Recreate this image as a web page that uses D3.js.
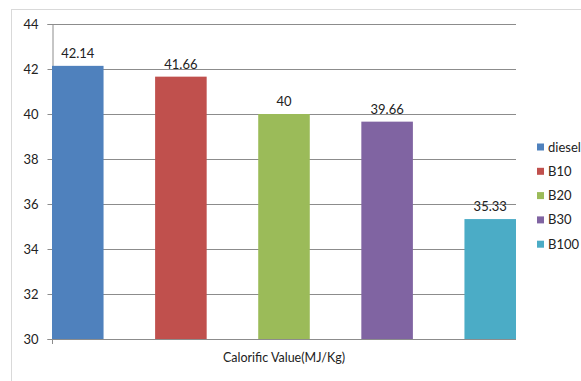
<!DOCTYPE html>
<html>
<head>
<meta charset="utf-8">
<script src="https://cdn.jsdelivr.net/npm/d3@7"></script>
<style>
  html, body { margin: 0; padding: 0; background: #fff; }
  svg { display: block; }
  text { font-family: Lato, "Open Sans", "Liberation Sans", sans-serif; fill: #222; }
</style>
</head>
<body>
<svg id="chart" width="581" height="381"></svg>
<script>
// Fuel blends and their calorific value (MJ/kg)
const fuels = ["diesel", "B10", "B20", "B30", "B100"];
const calorific = [42.14, 41.66, 40, 39.66, 35.33];
const fuelColors = ["#4F81BD", "#C0504D", "#9BBB59", "#8064A2", "#4BACC6"];
const yTicks = [30, 32, 34, 36, 38, 40, 42, 44];
const axisTitle = "Calorific Value(MJ/Kg)";

const svg = d3.select("#chart");
const plot = { left: 52, right: 516, top: 24, bottom: 339 };

// Chart frame
svg.append("rect")
  .attr("x", 11.5).attr("y", 9.5)
  .attr("width", 600).attr("height", 400)
  .attr("fill", "none").attr("stroke", "#d9d9d9");

const x = d3.scaleBand().domain(fuels)
  .range([plot.left, plot.right])
  .paddingInner(0.5).paddingOuter(0);

const y = d3.scaleLinear().domain([30, 44]).range([plot.bottom, plot.top]);

// Horizontal gridlines
svg.append("g").selectAll("line")
  .data(yTicks.filter(t => t !== 30))
  .join("line")
  .attr("x1", plot.left).attr("x2", plot.right)
  .attr("y1", d => Math.round(y(d)) + 0.5).attr("y2", d => Math.round(y(d)) + 0.5)
  .attr("stroke", "#8c8c8c").attr("stroke-width", 1);

// Y axis
const yAxis = svg.append("g")
  .attr("transform", `translate(${plot.left + 0.5},0)`)
  .call(d3.axisLeft(y).tickValues(yTicks).tickSize(5).tickPadding(9).tickFormat(d3.format("d")));
yAxis.select(".domain").attr("stroke", "#8c8c8c");
yAxis.selectAll(".tick line").attr("stroke", "#8c8c8c");
yAxis.selectAll(".tick text").attr("font-size", 13).style("font-family", "Lato, 'Open Sans', sans-serif").attr("fill", "#222");

// Bars
svg.append("g").selectAll("rect")
  .data(fuels)
  .join("rect")
  .attr("x", d => x(d))
  .attr("width", x.bandwidth())
  .attr("y", (d, i) => y(calorific[i]))
  .attr("height", (d, i) => y(30) - y(calorific[i]))
  .attr("fill", (d, i) => fuelColors[i]);

// X baseline with a tick at the left end
svg.append("line")
  .attr("x1", plot.left).attr("x2", plot.right)
  .attr("y1", plot.bottom + 0.5).attr("y2", plot.bottom + 0.5)
  .attr("stroke", "#8c8c8c");
svg.append("line")
  .attr("x1", plot.left + 0.5).attr("x2", plot.left + 0.5)
  .attr("y1", plot.bottom).attr("y2", plot.bottom + 5)
  .attr("stroke", "#8c8c8c");

// Value labels
svg.append("g").selectAll("text")
  .data(fuels)
  .join("text")
  .attr("x", d => x(d) + x.bandwidth() / 2)
  .attr("y", (d, i) => y(calorific[i]) - 8)
  .attr("text-anchor", "middle")
  .attr("font-size", 13)
  .text((d, i) => calorific[i]);

// Category axis title
svg.append("text")
  .attr("x", 284).attr("y", 362)
  .attr("text-anchor", "middle")
  .attr("font-size", 12.5)
  .text(axisTitle);

// Legend
const legend = svg.append("g").selectAll("g")
  .data(fuels)
  .join("g")
  .attr("transform", (d, i) => `translate(537, ${147 + i * 24.3})`);
legend.append("rect")
  .attr("x", 0).attr("y", -3.5)
  .attr("width", 7).attr("height", 7)
  .attr("fill", (d, i) => fuelColors[i]);
legend.append("text")
  .attr("x", 11).attr("y", 4.5)
  .attr("font-size", 13)
  .text(d => d);
</script>
</body>
</html>
